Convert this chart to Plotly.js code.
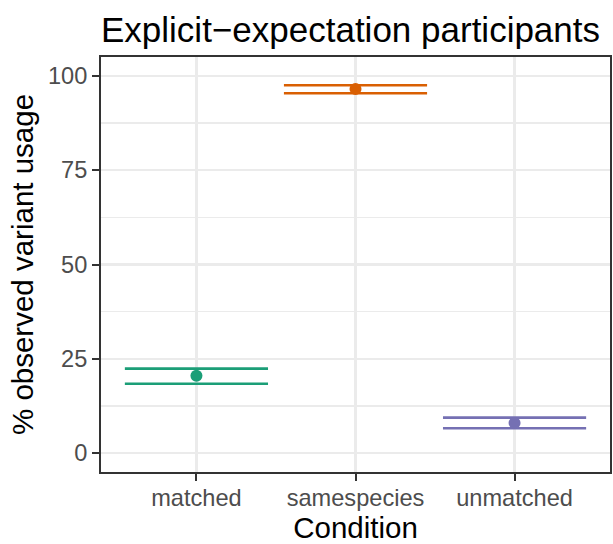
<!DOCTYPE html>
<html>
<head>
<meta charset="utf-8">
<script src="https://cdn.plot.ly/plotly-3.0.1.min.js"></script>
<style>html,body{margin:0;padding:0;background:#fff;}#chart{width:613px;height:544px;}</style>
</head>
<body>
<div id="chart"></div>
<script>
// Data
var categories = ["matched", "samespecies", "unmatched"];
var meanValues = [20.5, 96.5, 8.0];
var upperValues = [22.4, 97.5, 9.4];
var lowerValues = [18.4, 95.4, 6.6];
var colors = ["#1B9E77", "#D95F02", "#7570B3"];
var yTickVals = [0, 25, 50, 75, 100];
var yMinorVals = [12.5, 37.5, 62.5, 87.5];

var FONT = "Liberation Sans, Arial, Helvetica, sans-serif";
var halfWidth = 0.45;
var traces = [];
categories.forEach(function (cat, i) {
  // whiskers (error bar caps only, as in reference)
  traces.push({
    type: "scatter", mode: "lines", hoverinfo: "skip", showlegend: false,
    x: [i - halfWidth, i + halfWidth, null, i - halfWidth, i + halfWidth],
    y: [upperValues[i], upperValues[i], null, lowerValues[i], lowerValues[i]],
    line: {color: colors[i], width: 2.6}
  });
  traces.push({
    type: "scatter", mode: "markers", showlegend: false,
    x: [i], y: [meanValues[i]], name: cat,
    marker: {color: colors[i], size: 12}
  });
});

var layout = {
  width: 613, height: 544,
  margin: {l: 101, r: 3, t: 57, b: 72, pad: 0},
  paper_bgcolor: "#fff", plot_bgcolor: "#fff",
  font: {family: FONT, color: "#000"},
  title: {
    text: "Explicit\u2212expectation participants",
    font: {family: FONT, size: 35, color: "#000"},
    x: 101 / 613, xref: "container", xanchor: "left",
    y: 1 - 30 / 544, yref: "container", yanchor: "middle"
  },
  xaxis: {
    range: [-0.6, 2.6], tickvals: [0, 1, 2], ticktext: categories,
    showgrid: true, gridcolor: "#EBEBEB", gridwidth: 2.6,
    zeroline: false, showline: true, mirror: true, linecolor: "#333333", linewidth: 2,
    ticks: "outside", ticklen: 7, tickwidth: 2, tickcolor: "#333333",
    ticklabelstandoff: -3,
    tickfont: {family: FONT, size: 23.6, color: "#4D4D4D"},
    title: {text: "Condition", font: {family: FONT, size: 29.5, color: "#000"}, standoff: 4}
  },
  yaxis: {
    range: [-5, 105], tickvals: yTickVals, ticktext: yTickVals.map(String),
    showgrid: true, gridcolor: "#EBEBEB", gridwidth: 2.6,
    minor: {tickvals: yMinorVals, showgrid: true, gridcolor: "#EBEBEB", gridwidth: 1.3, ticks: ""},
    zeroline: false, showline: true, mirror: true, linecolor: "#333333", linewidth: 2,
    ticks: "outside", ticklen: 7, tickwidth: 2, tickcolor: "#333333",
    tickfont: {family: FONT, size: 23.6, color: "#4D4D4D"},
    title: {text: "% observed variant usage", font: {family: FONT, size: 29.5, color: "#000"}, standoff: 6}
  }
};

Plotly.newPlot("chart", traces, layout, {displayModeBar: false, staticPlot: true});
</script>
</body>
</html>
